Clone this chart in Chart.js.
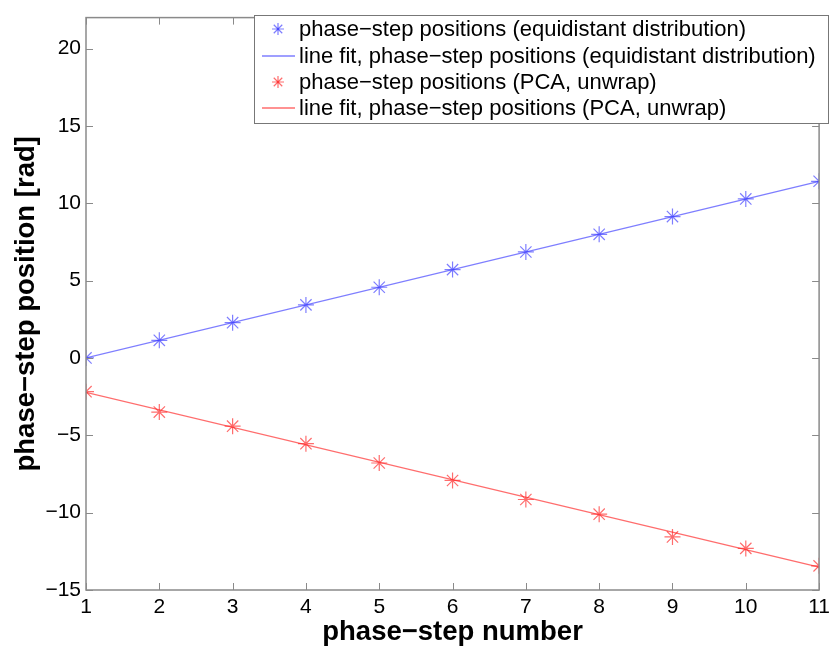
<!DOCTYPE html>
<html>
<head>
<meta charset="utf-8">
<script src="https://cdn.jsdelivr.net/npm/chart.js@4"></script>
<style>
  html, body { margin: 0; padding: 0; background: #fff; }
  #wrap { width: 835px; height: 646px; }
</style>
</head>
<body>
<div id="wrap"><canvas id="chart" width="835" height="646"></canvas></div>
<script>
// values
const steps = [1, 2, 3, 4, 5, 6, 7, 8, 9, 10, 11];
const equidistant = [0, 1.14, 2.28, 3.43, 4.57, 5.71, 6.85, 7.99, 9.14, 10.28, 11.42];
const pcaUnwrap = [-2.18, -3.5, -4.41, -5.54, -6.79, -7.92, -9.15, -10.1, -11.57, -12.31, -13.44];
const fitSteps = [1, 11];
const equidistantFit = [0, 11.42];
const pcaFit = [-2.22, -13.52];
const yTicks = [-15, -10, -5, 0, 5, 10, 15, 20];
const labels = [
  'phase\u2212step positions (equidistant distribution)',
  'line fit, phase\u2212step positions (equidistant distribution)',
  'phase\u2212step positions (PCA, unwrap)',
  'line fit, phase\u2212step positions (PCA, unwrap)'
];

const BLUE = 'rgba(40,40,255,0.6)';
const RED = 'rgba(255,30,30,0.65)';
const AXIS = '#8a8a8a';
const FONT = '"Liberation Sans", Arial, sans-serif';

const pts = (xs, ys) => xs.map((x, i) => ({ x: x, y: ys[i] }));
const minus = v => String(v).replace('-', '\u2212');

// box, inward ticks and legend drawn like the matlab figure
const matlabAxes = {
  id: 'matlabAxes',
  afterDraw(chart) {
    const { ctx, chartArea: a, scales } = chart;
    ctx.save();
    ctx.strokeStyle = AXIS;
    ctx.lineWidth = 1.5;
    ctx.strokeRect(a.left, a.top, a.right - a.left, a.bottom - a.top);
    ctx.lineWidth = 1;
    ctx.beginPath();
    scales.x.ticks.forEach(t => {
      const px = Math.round(scales.x.getPixelForValue(t.value)) + 0.5;
      ctx.moveTo(px, a.bottom); ctx.lineTo(px, a.bottom - 7);
      ctx.moveTo(px, a.top); ctx.lineTo(px, a.top + 7);
    });
    scales.y.ticks.forEach(t => {
      const py = Math.round(scales.y.getPixelForValue(t.value)) + 0.5;
      ctx.moveTo(a.left, py); ctx.lineTo(a.left + 7, py);
      ctx.moveTo(a.right, py); ctx.lineTo(a.right - 7, py);
    });
    ctx.stroke();

    // legend
    const bx = 254, by = 15, bw = 574, bh = 108;
    ctx.fillStyle = '#fff';
    ctx.fillRect(bx, by, bw, bh);
    ctx.strokeStyle = '#777';
    ctx.lineWidth = 1;
    ctx.strokeRect(bx + 0.5, by + 0.5, bw, bh);
    const rows = [29, 56, 82, 108];
    chart.data.datasets.forEach((ds, i) => {
      const y = rows[i];
      if (ds.showLine === false) {
        ctx.strokeStyle = ds.pointBorderColor;
        ctx.lineWidth = 1.2;
        Chart.helpers.drawPoint(ctx, { pointStyle: 'star', radius: 6, rotation: 0, borderWidth: 1.2 }, 278, y);
        ctx.fillStyle = ds.pointBorderColor;
        ctx.fillRect(277, y - 1, 2, 2);
      } else {
        ctx.strokeStyle = ds.borderColor;
        ctx.lineWidth = 1.3;
        ctx.beginPath();
        ctx.moveTo(262, y); ctx.lineTo(295, y);
        ctx.stroke();
      }
      ctx.fillStyle = '#000';
      ctx.font = '22px ' + FONT;
      ctx.textBaseline = 'middle';
      ctx.fillText(ds.label, 299, y + 1);
    });
    ctx.restore();
  }
};

new Chart(document.getElementById('chart'), {
  type: 'line',
  data: {
    datasets: [
      {
        label: labels[0],
        data: pts(steps, equidistant),
        showLine: false,
        pointStyle: 'star',
        pointRadius: 8,
        pointBorderWidth: 1.2,
        pointBorderColor: BLUE,
        pointBackgroundColor: BLUE
      },
      {
        label: labels[1],
        data: pts(fitSteps, equidistantFit),
        borderColor: BLUE,
        borderWidth: 1.3,
        pointRadius: 0
      },
      {
        label: labels[2],
        data: pts(steps, pcaUnwrap),
        showLine: false,
        pointStyle: 'star',
        pointRadius: 8,
        pointBorderWidth: 1.2,
        pointBorderColor: RED,
        pointBackgroundColor: RED
      },
      {
        label: labels[3],
        data: pts(fitSteps, pcaFit),
        borderColor: RED,
        borderWidth: 1.3,
        pointRadius: 0
      }
    ]
  },
  options: {
    responsive: false,
    animation: false,
    devicePixelRatio: 1,
    layout: { padding: { top: 9, right: 9, left: 0, bottom: 0 } },
    plugins: {
      legend: { display: false },
      tooltip: { enabled: false }
    },
    scales: {
      x: {
        type: 'linear',
        min: 1,
        max: 11,
        afterFit: s => { s.height = 56; },
        grid: { display: false, drawTicks: false },
        border: { display: false },
        ticks: {
          stepSize: 1,
          padding: 5,
          color: '#000',
          font: { family: FONT, size: 21 }
        },
        title: {
          display: true,
          text: 'phase\u2212step number',
          color: '#000',
          font: { family: FONT, size: 27.5, weight: 'bold' },
          padding: { top: 0, bottom: -3 }
        }
      },
      y: {
        type: 'linear',
        min: -15,
        max: 22,
        afterFit: s => { s.width = 86; },
        afterBuildTicks: s => { s.ticks = yTicks.map(v => ({ value: v })); },
        grid: { display: false, drawTicks: false },
        border: { display: false },
        ticks: {
          padding: 5,
          color: '#000',
          font: { family: FONT, size: 21 },
          callback: v => minus(v)
        },
        title: {
          display: true,
          text: 'phase\u2212step position [rad]',
          color: '#000',
          font: { family: FONT, size: 27.5, weight: 'bold' },
          padding: { top: 10, bottom: 0 }
        }
      }
    }
  },
  plugins: [matlabAxes]
});
</script>
</body>
</html>
